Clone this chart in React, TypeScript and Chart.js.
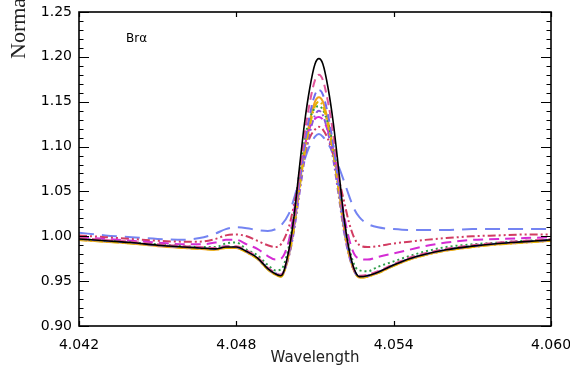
import React, { useEffect, useRef } from "react";
import { Chart, registerables } from "chart.js";

Chart.register(...registerables);

const wavelength = [
  4.042, 4.043, 4.044, 4.045, 4.046, 4.0466, 4.0472, 4.0476, 4.048, 4.0484, 4.0488, 4.0492, 4.0495, 4.0497,
  4.05, 4.0502, 4.0504, 4.0506, 4.0508, 4.051, 4.05115, 4.0513, 4.0515, 4.0517, 4.0519, 4.0521, 4.0523, 4.0525,
  4.0527, 4.053, 4.0534, 4.054, 4.0546, 4.0552, 4.056, 4.057, 4.058, 4.059, 4.06,
];

const fluxBlack = [
  0.997, 0.995, 0.993, 0.99, 0.988, 0.987, 0.986, 0.988, 0.988, 0.983, 0.976, 0.964, 0.958, 0.956,
  0.984, 1.022, 1.075, 1.126, 1.165, 1.192, 1.198, 1.192, 1.165, 1.126, 1.075, 1.022, 0.985, 0.963,
  0.955, 0.956, 0.96, 0.968, 0.975, 0.98, 0.985, 0.989, 0.992, 0.994, 0.996,
];
const fluxOrange = [
  0.996, 0.994, 0.992, 0.989, 0.987, 0.986, 0.985, 0.987, 0.987, 0.982, 0.975, 0.963, 0.957, 0.955,
  0.979, 1.01, 1.054, 1.096, 1.128, 1.15, 1.155, 1.15, 1.128, 1.096, 1.054, 1.01, 0.98, 0.961,
  0.954, 0.955, 0.959, 0.967, 0.974, 0.979, 0.984, 0.988, 0.991, 0.993, 0.995,
];
const fluxPink = [
  0.998, 0.996, 0.994, 0.991, 0.989, 0.988, 0.987, 0.989, 0.989, 0.984, 0.977, 0.965, 0.959, 0.957,
  0.982, 1.017, 1.066, 1.113, 1.149, 1.174, 1.18, 1.174, 1.149, 1.113, 1.066, 1.017, 0.983, 0.962,
  0.956, 0.957, 0.961, 0.969, 0.976, 0.981, 0.986, 0.99, 0.993, 0.995, 0.997,
];
const fluxBlue = [
  0.997, 0.995, 0.993, 0.99, 0.988, 0.987, 0.986, 0.989, 0.988, 0.983, 0.976, 0.964, 0.958, 0.957,
  0.98, 1.012, 1.058, 1.101, 1.135, 1.158, 1.163, 1.158, 1.135, 1.101, 1.058, 1.012, 0.981, 0.962,
  0.955, 0.956, 0.96, 0.968, 0.975, 0.98, 0.985, 0.989, 0.992, 0.994, 0.996,
];
const fluxGold = [
  0.996, 0.994, 0.992, 0.99, 0.987, 0.986, 0.985, 0.987, 0.987, 0.982, 0.975, 0.963, 0.957, 0.955,
  0.978, 1.009, 1.051, 1.092, 1.123, 1.145, 1.15, 1.145, 1.123, 1.092, 1.051, 1.009, 0.979, 0.961,
  0.954, 0.955, 0.959, 0.967, 0.974, 0.979, 0.984, 0.988, 0.991, 0.993, 0.995,
];
const fluxPurple = [
  0.997, 0.995, 0.993, 0.99, 0.988, 0.987, 0.986, 0.988, 0.988, 0.983, 0.976, 0.965, 0.959, 0.957,
  0.977, 1.006, 1.046, 1.085, 1.115, 1.135, 1.14, 1.135, 1.115, 1.085, 1.046, 1.006, 0.978, 0.961,
  0.955, 0.956, 0.96, 0.968, 0.975, 0.98, 0.985, 0.989, 0.992, 0.994, 0.996,
];
const fluxGreen = [
  0.997, 0.995, 0.993, 0.991, 0.989, 0.988, 0.988, 0.992, 0.993, 0.985, 0.979, 0.968, 0.962, 0.963,
  0.988, 1.024, 1.07, 1.108, 1.131, 1.143, 1.145, 1.141, 1.125, 1.1, 1.062, 1.02, 0.988, 0.968,
  0.962, 0.961, 0.966, 0.972, 0.978, 0.983, 0.988, 0.991, 0.993, 0.995, 0.996,
];
const fluxMagenta = [
  0.999, 0.997, 0.995, 0.993, 0.991, 0.991, 0.993, 0.996, 0.996, 0.991, 0.986, 0.978, 0.974, 0.975,
  0.995, 1.028, 1.068, 1.1, 1.121, 1.131, 1.133, 1.13, 1.117, 1.095, 1.062, 1.025, 0.997, 0.98,
  0.975, 0.974, 0.977, 0.981, 0.985, 0.989, 0.993, 0.996, 0.997, 0.998, 0.999,
];
const fluxCrimson = [
  1.001, 0.999, 0.997, 0.995, 0.994, 0.994, 0.997, 1.001, 1.002, 1.0, 0.995, 0.99, 0.988, 0.991,
  1.01, 1.035, 1.065, 1.092, 1.11, 1.119, 1.122, 1.119, 1.108, 1.09, 1.065, 1.04, 1.015, 0.998,
  0.99, 0.988, 0.989, 0.992, 0.994, 0.996, 0.998, 1.0, 1.001, 1.002, 1.002,
];
const fluxLongBlue = [
  1.004, 1.001, 0.999, 0.997, 0.996, 0.998, 1.003, 1.008, 1.01, 1.009, 1.007, 1.006, 1.008, 1.012,
  1.025, 1.042, 1.064, 1.085, 1.101, 1.111, 1.114, 1.111, 1.103, 1.092, 1.078, 1.062, 1.045, 1.03,
  1.021, 1.014, 1.01, 1.008, 1.007, 1.007, 1.007, 1.008, 1.008, 1.008, 1.008,
];

const xTicks = [4.042, 4.048, 4.054, 4.06];
const yMin = 0.9;
const yMax = 1.25;
const xMin = 4.042;
const xMax = 4.06;

const seriesDefs = [
  { label: "black", data: fluxBlack, color: "#000000", dash: [], width: 1.6 },
  { label: "pink", data: fluxPink, color: "#e2559c", dash: [8, 5], width: 2 },
  { label: "blue", data: fluxBlue, color: "#6f6cf0", dash: [8, 5], width: 2 },
  { label: "gold", data: fluxGold, color: "#e3b400", dash: [8, 3, 2, 3], width: 2 },
  { label: "green", data: fluxGreen, color: "#2f9e4a", dash: [2, 3], width: 2 },
  { label: "purple", data: fluxPurple, color: "#8a55dc", dash: [6, 3, 2, 3], width: 2 },
  { label: "magenta", data: fluxMagenta, color: "#d42cd4", dash: [10, 6], width: 2 },
  { label: "crimson", data: fluxCrimson, color: "#d23c62", dash: [8, 3, 2, 3, 2, 3], width: 2 },
  { label: "longblue", data: fluxLongBlue, color: "#7484f2", dash: [15, 8], width: 2 },
  { label: "orange", data: fluxOrange, color: "#f0a020", dash: [], width: 2 },
];

const framePlugin = {
  id: "frame",
  afterDraw(chart: any) {
    const { ctx, chartArea: a, scales } = chart;
    ctx.save();
    ctx.strokeStyle = "#000";
    ctx.lineWidth = 1.6;
    ctx.strokeRect(a.left, a.top, a.right - a.left, a.bottom - a.top);
    ctx.lineWidth = 1.2;
    const ys = scales.y;
    for (let i = 0; i <= 35; i++) {
      const py = Math.round(ys.getPixelForValue(yMin + i * 0.01)) + 0.5;
      const len = i % 5 === 0 ? 10 : 4.5;
      ctx.beginPath();
      ctx.moveTo(a.left, py);
      ctx.lineTo(a.left + len, py);
      ctx.moveTo(a.right, py);
      ctx.lineTo(a.right - len, py);
      ctx.stroke();
    }
    const xs = scales.x;
    for (const t of xTicks) {
      const px = Math.round(xs.getPixelForValue(t)) + 0.5;
      ctx.beginPath();
      ctx.moveTo(px, a.bottom);
      ctx.lineTo(px, a.bottom - 5);
      ctx.moveTo(px, a.top);
      ctx.lineTo(px, a.top + 5);
      ctx.stroke();
    }
    ctx.fillStyle = "#000";
    ctx.font = '12px "DejaVu Sans"';
    ctx.textBaseline = "middle";
    ctx.textAlign = "left";
    ctx.fillText("Brα", 126, 39);
    ctx.fillStyle = "#222";
    ctx.font = '22px "Liberation Serif"';
    ctx.textBaseline = "alphabetic";
    ctx.translate(25, 59);
    ctx.rotate(-Math.PI / 2);
    ctx.fillText("Normalized Flux", 0, 0);
    ctx.restore();
  },
};

export default function App() {
  const ref = useRef<HTMLCanvasElement | null>(null);
  useEffect(() => {
    document.body.style.margin = "0";
    if (!ref.current) return;
    const chart = new Chart(ref.current, {
      type: "line",
      data: {
        datasets: seriesDefs.map((s) => ({
          label: s.label,
          data: wavelength.map((w, i) => ({ x: w, y: s.data[i] })),
          borderColor: s.color,
          borderDash: s.dash,
          borderWidth: s.width,
          pointRadius: 0,
          fill: false,
          cubicInterpolationMode: "monotone" as const,
        })),
      },
      options: {
        animation: false,
        responsive: false,
        layout: { padding: { top: 12, right: 19, bottom: 0, left: 0 } },
        plugins: { legend: { display: false }, tooltip: { enabled: false } },
        scales: {
          x: {
            type: "linear",
            min: xMin,
            max: xMax,
            afterBuildTicks: (s: any) => {
              s.ticks = xTicks.map((v) => ({ value: v }));
            },
            afterFit: (s: any) => {
              s.height = 41;
              s.paddingLeft = 0;
              s.paddingRight = 0;
            },
            grid: { display: false, drawTicks: false },
            border: { display: false },
            ticks: {
              color: "#000",
              padding: 11,
              maxRotation: 0,
              font: { family: "DejaVu Sans", size: 14 },
              callback: (v: any) => Number(v).toFixed(3),
            },
            title: {
              display: true,
              text: "Wavelength",
              color: "#222",
              font: { family: "DejaVu Sans", size: 15 },
              padding: { top: 0, bottom: 0 },
            },
          },
          y: {
            type: "linear",
            min: yMin,
            max: yMax,
            ticks: {
              stepSize: 0.05,
              color: "#000",
              padding: 7,
              font: { family: "DejaVu Sans", size: 14 },
              callback: (v: any) => Number(v).toFixed(2),
            },
            afterFit: (s: any) => {
              s.width = 79;
              s.paddingTop = 0;
              s.paddingBottom = 0;
            },
            grid: { display: false, drawTicks: false },
            border: { display: false },
          },
        },
      },
      plugins: [framePlugin],
    });
    return () => chart.destroy();
  }, []);
  return (
    <div style={{ width: 570, height: 367 }}>
      <canvas ref={ref} width={570} height={367} />
    </div>
  );
}
